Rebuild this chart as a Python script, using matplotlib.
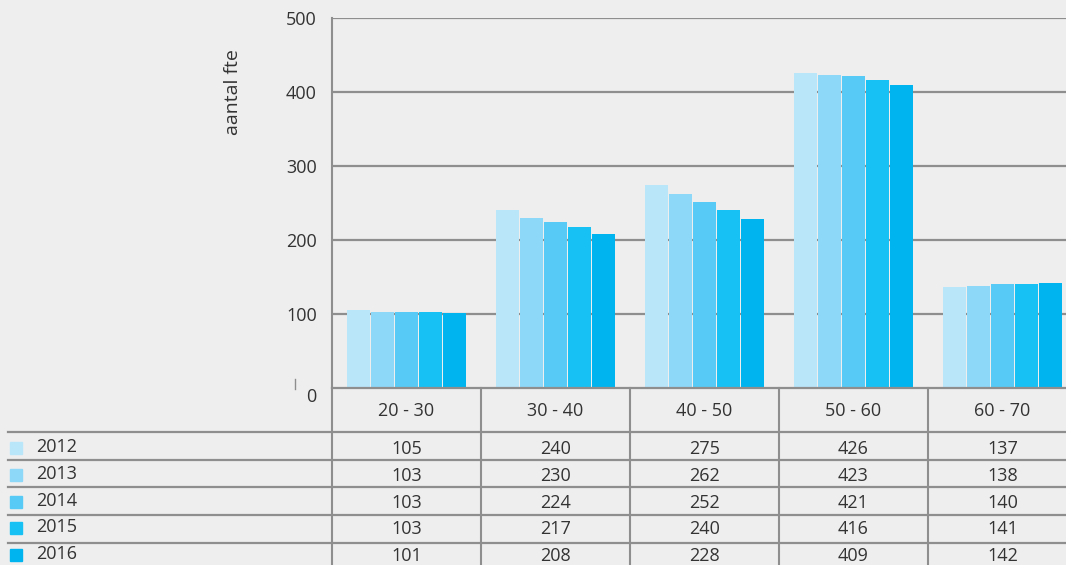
import numpy as np
import matplotlib.pyplot as plt
import matplotlib.transforms as mtransforms

categories = ['20 - 30', '30 - 40', '40 - 50', '50 - 60', '60 - 70']
years = ['2012', '2013', '2014', '2015', '2016']
values = {
    '2012': [105, 240, 275, 426, 137],
    '2013': [103, 230, 262, 423, 138],
    '2014': [103, 224, 252, 421, 140],
    '2015': [103, 217, 240, 416, 141],
    '2016': [101, 208, 228, 409, 142],
}
colors = ['#BAE6FA', '#8DD8F8', '#57CBF5', '#17C1F4', '#00B5EF']
yticks = [0, 100, 200, 300, 400, 500]

BG = '#EEEEEE'
GRID = '#8E8E8E'
TXT = '#333333'
FS = 13
plt.rcParams['font.family'] = ['Open Sans', 'DejaVu Sans']

W, H = 1066, 565
fig = plt.figure(figsize=(W / 100, H / 100), dpi=100, facecolor=BG)

# main plot area (pixel box: x 332..1066, y 18..388), one category = 149 px
ax = fig.add_axes([332 / W, (H - 388) / H, (W - 332) / W, 370 / H])
ax.set_facecolor(BG)
ax.set_xlim(0, (W - 332) / 149)
ax.set_ylim(0, 500)

pitch = 0.161
bw = 0.148
x = np.arange(len(categories))
for i, yr in enumerate(years):
    ax.bar(x + 0.5 + (i - 2) * pitch, values[yr], width=bw, color=colors[i], zorder=3)

for t in yticks[1:]:
    ax.axhline(t, color=GRID, lw=1.6, zorder=2)
for s in ['top', 'right', 'bottom']:
    ax.spines[s].set_visible(False)
ax.spines['left'].set_color(GRID)
ax.spines['left'].set_linewidth(1.5)
ax.set_xticks([])
ax.set_yticks(yticks)
ax.set_yticklabels([str(t) for t in yticks], fontsize=FS, color=TXT)
ax.tick_params(axis='y', length=0, pad=11)
zero_lbl = ax.get_yticklabels()[0]
zero_lbl.set_transform(zero_lbl.get_transform() +
                       mtransforms.ScaledTranslation(0, -7 / 100, fig.dpi_scale_trans))
ax.set_ylabel('aantal fte', fontsize=14, color=TXT, labelpad=0)
ax.yaxis.set_label_coords(-0.123, 0.80)

# data table below the plot, in pixel coordinates
tax = fig.add_axes([0, 0, 1, 1], facecolor='none')
tax.set_xlim(0, W)
tax.set_ylim(H, 0)
tax.axis('off')

col_edges = [332 + 149 * k for k in range(len(categories) + 1)]
row_lines = [432, 460, 487, 515, 543]
tax.plot([332, W], [388, 388], color=GRID, lw=1.6)
for y in row_lines:
    tax.plot([8, W], [y, y], color=GRID, lw=1.6)
for cx in col_edges[:-1]:
    tax.plot([cx, cx], [388, H], color=GRID, lw=1.5)
tax.plot([295, 295], [379, 389], color=GRID, lw=1)

for j, cat in enumerate(categories):
    cx = (col_edges[j] + col_edges[j + 1]) / 2
    tax.text(cx, 411, cat, ha='center', va='center', fontsize=FS, color=TXT)

row_centers = [448, 475, 502, 528, 555]
for i, yr in enumerate(years):
    yc = row_centers[i]
    tax.add_patch(plt.Rectangle((10, yc - 6), 12, 12, color=colors[i]))
    tax.text(36, yc - 1, yr, ha='left', va='center', fontsize=FS, color=TXT)
    for j in range(len(categories)):
        cx = (col_edges[j] + col_edges[j + 1]) / 2
        tax.text(cx, yc + 1, str(values[yr][j]), ha='center', va='center',
                 fontsize=FS, color=TXT)

fig.savefig('out.png', dpi=100, facecolor=BG)
